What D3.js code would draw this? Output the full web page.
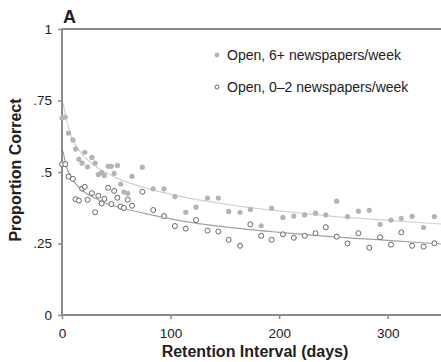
<!DOCTYPE html>
<html>
<head>
<meta charset="utf-8">
<script src="https://cdn.jsdelivr.net/npm/d3@7"></script>
<style>
  body { margin: 0; background: #fff; }
  text { font-family: "Liberation Sans", Arial, sans-serif; fill: #222; }
</style>
</head>
<body>
<div class="chart"></div>
<script>
// retention interval (days) for each test point, shared by both groups
const days = [0, 3, 6, 10, 12.5, 15.5, 18.5, 21, 23.5, 27.5, 30.5, 33.5, 36.5, 39, 42.5, 45.5, 48, 51, 54, 57,
  60.5, 64.5, 74, 84, 94, 104, 114, 123.5, 134, 144, 153.5, 164, 173.5, 183.5, 193, 203.5, 213.5, 223.5, 233.5, 243,
  253, 263, 273, 283, 293, 303, 312.5, 322.5, 333, 343];

// proportion correct, open questions, 6+ newspapers/week
const sixPlus = [0.689, 0.692, 0.636, 0.612, 0.580, 0.545, 0.531, 0.569, 0.518, 0.551, 0.531, 0.491, 0.498, 0.488, 0.520, 0.520, 0.495, 0.523, 0.458, 0.430,
  0.425, 0.485, 0.517, 0.441, 0.441, 0.414, 0.359, 0.377, 0.409, 0.409, 0.362, 0.359, 0.369, 0.312, 0.374, 0.341, 0.346, 0.350, 0.356, 0.350,
  0.398, 0.344, 0.363, 0.366, 0.317, 0.332, 0.338, 0.345, 0.306, 0.344];

// proportion correct, open questions, 0-2 newspapers/week
const zeroTwo = [0.527, 0.527, 0.484, 0.476, 0.405, 0.400, 0.442, 0.448, 0.403, 0.426, 0.359, 0.417, 0.390, 0.406, 0.445, 0.388, 0.434, 0.410, 0.379, 0.374,
  0.403, 0.382, 0.431, 0.367, 0.346, 0.311, 0.302, 0.332, 0.295, 0.292, 0.263, 0.242, 0.317, 0.277, 0.263, 0.282, 0.270, 0.277, 0.286, 0.307,
  0.274, 0.250, 0.286, 0.235, 0.272, 0.246, 0.289, 0.242, 0.239, 0.251];

// fitted retention curves
const fitDays = [1, 4, 8, 18, 30, 42, 53, 80, 110, 150, 200, 247, 300, 350];
const fitSixPlus = [0.74, 0.685, 0.63, 0.565, 0.523, 0.495, 0.475, 0.441, 0.414, 0.388, 0.364, 0.346, 0.331, 0.318];
const fitZeroTwo = [0.572, 0.52, 0.485, 0.438, 0.409, 0.388, 0.376, 0.352, 0.329, 0.308, 0.289, 0.274, 0.261, 0.248];

const yTicks = [0, 0.25, 0.5, 0.75, 1];
const yTickLabels = ["0", ".25", ".5", ".75", "1"];
const xTicks = [0, 100, 200, 300];
const legendLabels = ["Open, 6+ newspapers/week", "Open, 0\u20132 newspapers/week"];

const width = 441;
const height = 362;

const x = d3.scaleLinear().domain([0, 350]).range([62, 442]);
const y = d3.scaleLinear().domain([0, 1]).range([315, 29]);

const axisColor = "#8c8c8c";
const dotFill = "#b4b4b4";
const ringStroke = "#666";

const svg = d3.select(".chart")
    .append("svg")
    .attr("width", width)
    .attr("height", height);

// fitted curves first, so the dots sit on top
const line = d3.line()
    .x(d => x(d[0]))
    .y(d => y(d[1]))
    .curve(d3.curveMonotoneX);

svg.append("path")
    .datum(d3.zip(fitDays, fitSixPlus))
    .attr("d", line)
    .attr("fill", "none")
    .attr("stroke", "#d2d2d2")
    .attr("stroke-width", 1.2);

svg.append("path")
    .datum(d3.zip(fitDays, fitZeroTwo))
    .attr("d", line)
    .attr("fill", "none")
    .attr("stroke", "#a2a2a2")
    .attr("stroke-width", 1.2);

// axes
const yAxis = svg.append("g")
    .attr("transform", "translate(" + x(0) + ",0)")
    .call(d3.axisLeft(y)
      .tickValues(yTicks)
      .tickFormat((d, i) => yTickLabels[i])
      .tickSize(4)
      .tickPadding(6));

const xAxis = svg.append("g")
    .attr("transform", "translate(0," + y(0) + ")")
    .call(d3.axisBottom(x)
      .tickValues(xTicks)
      .tickSize(4)
      .tickPadding(9));

[yAxis, xAxis].forEach(function(g) {
  g.select(".domain").remove();
  g.selectAll(".tick line").attr("stroke", axisColor).attr("stroke-width", 1.5);
  g.selectAll(".tick text")
    .style("font-family", "'Liberation Sans', Arial, sans-serif")
    .style("font-size", "13.5px")
    .attr("fill", "#222");
});

// axis lines (left, bottom and the top rule at 1)
svg.append("line")
    .attr("x1", x(0)).attr("x2", x(0))
    .attr("y1", y(1)).attr("y2", y(0) + 1)
    .attr("stroke", axisColor).attr("stroke-width", 2);

svg.append("line")
    .attr("x1", x(0)).attr("x2", x(350))
    .attr("y1", y(0)).attr("y2", y(0))
    .attr("stroke", axisColor).attr("stroke-width", 2);

svg.append("line")
    .attr("x1", x(0)).attr("x2", x(350))
    .attr("y1", y(1)).attr("y2", y(1))
    .attr("stroke", axisColor).attr("stroke-width", 2);

// data points
svg.selectAll(".six")
    .data(d3.zip(days, sixPlus))
    .enter()
    .append("circle")
    .attr("class", "six")
    .attr("cx", d => x(d[0]))
    .attr("cy", d => y(d[1]))
    .attr("r", 2.6)
    .attr("fill", dotFill);

svg.selectAll(".zero")
    .data(d3.zip(days, zeroTwo))
    .enter()
    .append("circle")
    .attr("class", "zero")
    .attr("cx", d => x(d[0]))
    .attr("cy", d => y(d[1]))
    .attr("r", 2.5)
    .attr("fill", "#fff")
    .attr("stroke", ringStroke)
    .attr("stroke-width", 1);

// legend
const legend = svg.selectAll(".legend")
    .data(legendLabels)
    .enter()
    .append("g")
    .attr("class", "legend")
    .attr("transform", (d, i) => "translate(217," + (55 + i * 32) + ")");

legend.append("circle")
    .attr("r", (d, i) => i === 0 ? 2.4 : 2)
    .attr("fill", (d, i) => i === 0 ? dotFill : "#fff")
    .attr("stroke", (d, i) => i === 0 ? "none" : ringStroke)
    .attr("stroke-width", 1);

legend.append("text")
    .attr("x", 10)
    .attr("y", 5)
    .style("font-size", "14px")
    .text(d => d);

// panel letter
svg.append("text")
    .attr("x", 63)
    .attr("y", 22.5)
    .attr("font-size", 18)
    .attr("font-weight", "bold")
    .text("A");

svg.append("text")
    .attr("x", 255)
    .attr("y", 357)
    .attr("text-anchor", "middle")
    .style("font-size", "16px")
    .style("font-weight", "bold")
    .text("Retention Interval (days)");

svg.append("text")
    .attr("transform", "translate(21,170) rotate(-90)")
    .attr("text-anchor", "middle")
    .style("font-size", "16px")
    .style("font-weight", "bold")
    .text("Proportion Correct");
</script>
</body>
</html>
